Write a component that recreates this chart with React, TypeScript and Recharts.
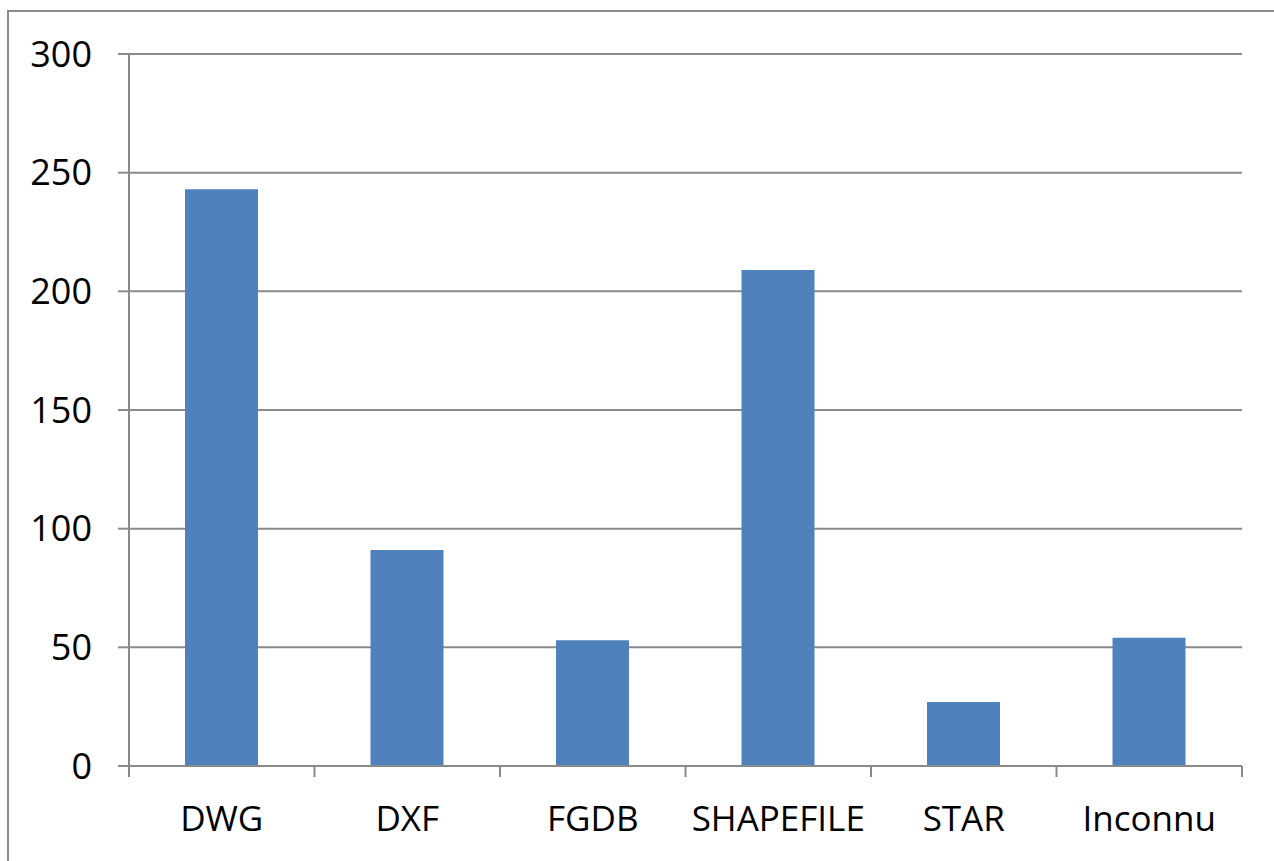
import React from 'react';
import { BarChart, Bar, XAxis, YAxis, CartesianGrid } from 'recharts';

const categories = ['DWG', 'DXF', 'FGDB', 'SHAPEFILE', 'STAR', 'Inconnu'];
const counts = [243, 91, 53, 209, 27, 54];
const yTicks = [0, 50, 100, 150, 200, 250, 300];

const data = categories.map((name, i) => ({ name, value: counts[i] }));

const GRAY = '#8a8a8a';
const FONT = "'Open Sans', sans-serif";
const FONT_SIZE = 35;

function CategoryTick(props: any) {
  const { x, y, payload, index, visibleTicksCount } = props;
  const half = payload && payload.offset ? payload.offset : 0;
  const isLast = index === (visibleTicksCount ?? categories.length) - 1;
  return (
    <g>
      <line x1={x - half} x2={x - half} y1={y} y2={y + 11} stroke={GRAY} strokeWidth={2} />
      {isLast && (
        <line x1={x + half} x2={x + half} y1={y} y2={y + 11} stroke={GRAY} strokeWidth={2} />
      )}
      <text x={x} y={y + 40} dy="0.71em" textAnchor="middle" fill="#000" fontSize={FONT_SIZE} fontFamily={FONT}>
        {payload.value}
      </text>
    </g>
  );
}

export default function App() {
  return (
    <div style={{ position: 'absolute', left: 0, top: 0, width: 1274, height: 861, overflow: 'hidden', background: '#fff' }}>
      <div style={{ position: 'absolute', left: 7, top: 10, width: 1400, height: 1000, borderLeft: `2px solid ${GRAY}`, borderTop: `2px solid ${GRAY}` }} />
      <div style={{ position: 'absolute', left: 0, top: 0 }}>
        <BarChart
          width={1274}
          height={861}
          data={data}
          margin={{ top: 54, right: 32, left: 29, bottom: 0 }}
          barSize={73}
        >
          <CartesianGrid vertical={false} stroke={GRAY} strokeWidth={2} />
          <XAxis
            dataKey="name"
            height={95}
            axisLine={{ stroke: GRAY, strokeWidth: 2 }}
            tickLine={false}
            tickSize={0}
            tickMargin={0}
            interval={0}
            tick={<CategoryTick />}
          />
          <YAxis
            width={100}
            domain={[0, 300]}
            ticks={yTicks}
            interval={0}
            tickSize={11}
            tickMargin={26}
            tickLine={{ stroke: GRAY, strokeWidth: 2 }}
            axisLine={{ stroke: GRAY, strokeWidth: 2 }}
            tick={{ fill: '#000', fontSize: 36, fontFamily: FONT }}
          />
          <Bar dataKey="value" fill="#4f81bd" isAnimationActive={false} />
        </BarChart>
      </div>
    </div>
  );
}
